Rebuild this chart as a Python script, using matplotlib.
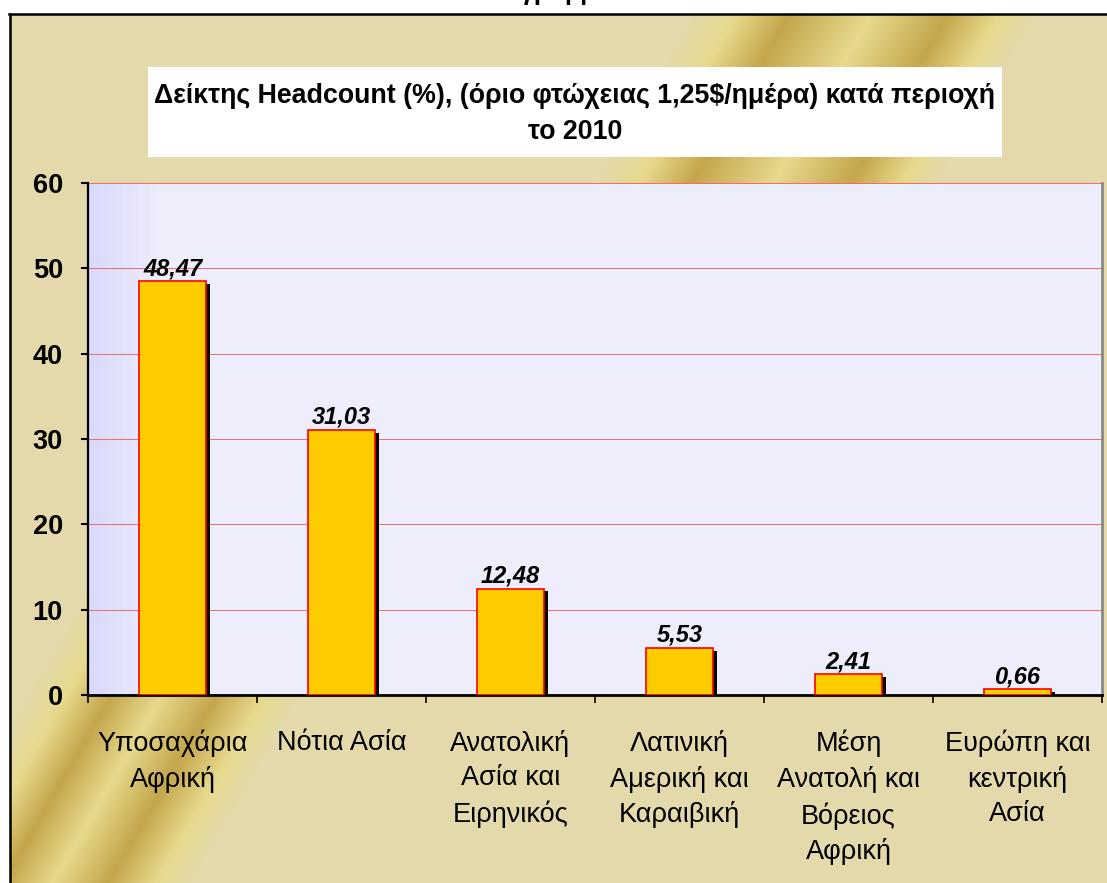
import numpy as np
import matplotlib.pyplot as plt
import matplotlib.patheffects as pe
from matplotlib.colors import to_rgb

plt.rcParams['font.family'] = ['Liberation Sans', 'DejaVu Sans']

# data
regions = ["Υποσαχάρια\nΑφρική", "Νότια Ασία", "Ανατολική\nΑσία και\nΕιρηνικός",
           "Λατινική\nΑμερική και\nΚαραιβική", "Μέση\nΑνατολή και\nΒόρειος\nΑφρική",
           "Ευρώπη και\nκεντρική\nΑσία"]
headcount = [48.47, 31.03, 12.48, 5.53, 2.41, 0.66]
yticks = [0, 10, 20, 30, 40, 50, 60]
title = "Δείκτης Headcount (%), (όριο φτώχειας 1,25$/ημέρα) κατά περιοχή\nτο 2010"

W, H = 1107, 883
fig = plt.figure(figsize=(W / 100, H / 100), dpi=100)
fig.patch.set_facecolor('white')

# gold background, placed pixel by pixel (row 0 = y 14 from the top)
beige = np.array(to_rgb('#e3d9ab'))
light = np.array(to_rgb('#e7d98d'))
dark = np.array(to_rgb('#c4a64c'))


def band(s, pos, cols):
    out = np.zeros(s.shape + (3,))
    for c in range(3):
        out[..., c] = np.interp(s, pos, [col[c] for col in cols])
    return out


xx, yy = np.meshgrid(np.arange(10, W) + 0.5, np.arange(14, H) + 0.5)
s = xx + 0.58 * yy
img_bl = band(s, [430, 470, 515, 565, 620, 668, 705],
              [beige, light, dark, light, dark, light, beige])
img_tr = band(s, [700, 745, 798, 880, 957, 1008, 1045],
              [beige, light, dark, light, dark, light, beige])
img = np.where((yy > 450)[..., None], img_bl, img_tr)
fig.figimage(img, xo=10, yo=0, origin='upper', zorder=0)

bg = fig.add_axes([0, 0, 1, 1], zorder=1)
bg.set_xlim(0, W)
bg.set_ylim(H, 0)
bg.axis('off')
bg.patch.set_alpha(0)
bg.plot([9, W], [14, 14], color='black', lw=1.8)
bg.plot([10, 10], [14, H], color='black', lw=1.8)

# caption above the chart, cut off by the top edge
bg.text(545, 0, "Διάγραμμα", ha='center', va='baseline', fontsize=18, fontweight='bold')

# title box
bg.add_patch(plt.Rectangle((148, 67), 854, 90, facecolor='white', edgecolor='none'))
bg.text(575, 114, title, ha='center', va='center', fontsize=19.3, fontweight='bold',
        linespacing=1.5)

# plot area
x0, x1, ytop, ybot = 88, 1102, 183, 695
ax = fig.add_axes([x0 / W, (H - ybot) / H, (x1 - x0) / W, (ybot - ytop) / H], zorder=2)
ax.patch.set_alpha(0)

grad = np.ones((2, 200, 3))
lav1 = np.array(to_rgb('#d9d9fb'))
lav2 = np.array(to_rgb('#eeedfc'))
t = np.clip(np.linspace(0, 1, 200) / 0.07, 0, 1)
grad[:] = (lav1[None, :] * (1 - t[:, None]) + lav2[None, :] * t[:, None])[None]
ax.imshow(grad, extent=(-0.5, len(regions) - 0.5, 0, 60), aspect='auto', zorder=0)
ax.set_xlim(-0.5, len(regions) - 0.5)
ax.set_ylim(0, 60)

for v in yticks[1:]:
    ax.axhline(v, color='#f26a6a', lw=0.7, zorder=1)

xpos = np.arange(len(regions))
bars = ax.bar(xpos, headcount, width=0.4, color='#ffcc00', edgecolor='#ff0000',
              linewidth=1.2, zorder=3)
for b in bars:
    b.set_path_effects([pe.SimplePatchShadow(offset=(2.6, -2.0), shadow_rgbFace='black', alpha=1.0),
                        pe.Normal()])

for xv, v in zip(xpos, headcount):
    ax.text(xv, v + 0.15, f"{v:.2f}".replace('.', ','), ha='center', va='bottom',
            fontsize=17, fontweight='bold', fontstyle='italic', zorder=4)

ax.set_yticks(yticks)
ax.set_yticklabels([str(v) for v in yticks], fontsize=19.5, fontweight='bold')
ax.tick_params(axis='y', direction='out', length=5, width=1.5, pad=13)

ax.set_xticks(np.arange(len(regions) + 1) - 0.5)
ax.set_xticklabels([])
ax.set_xticks(xpos, minor=True)
ax.set_xticklabels(regions, minor=True, fontsize=19.5, linespacing=1.42)
ax.tick_params(axis='x', which='major', direction='out', length=6, width=1.2)
ax.tick_params(axis='x', which='minor', length=0, pad=25)

ax.spines['top'].set_visible(False)
ax.spines['right'].set_color('#808080')
ax.spines['right'].set_linewidth(1.8)
ax.spines['left'].set_linewidth(1.6)
ax.spines['bottom'].set_linewidth(2.0)

fig.savefig('out.png', dpi=100)
